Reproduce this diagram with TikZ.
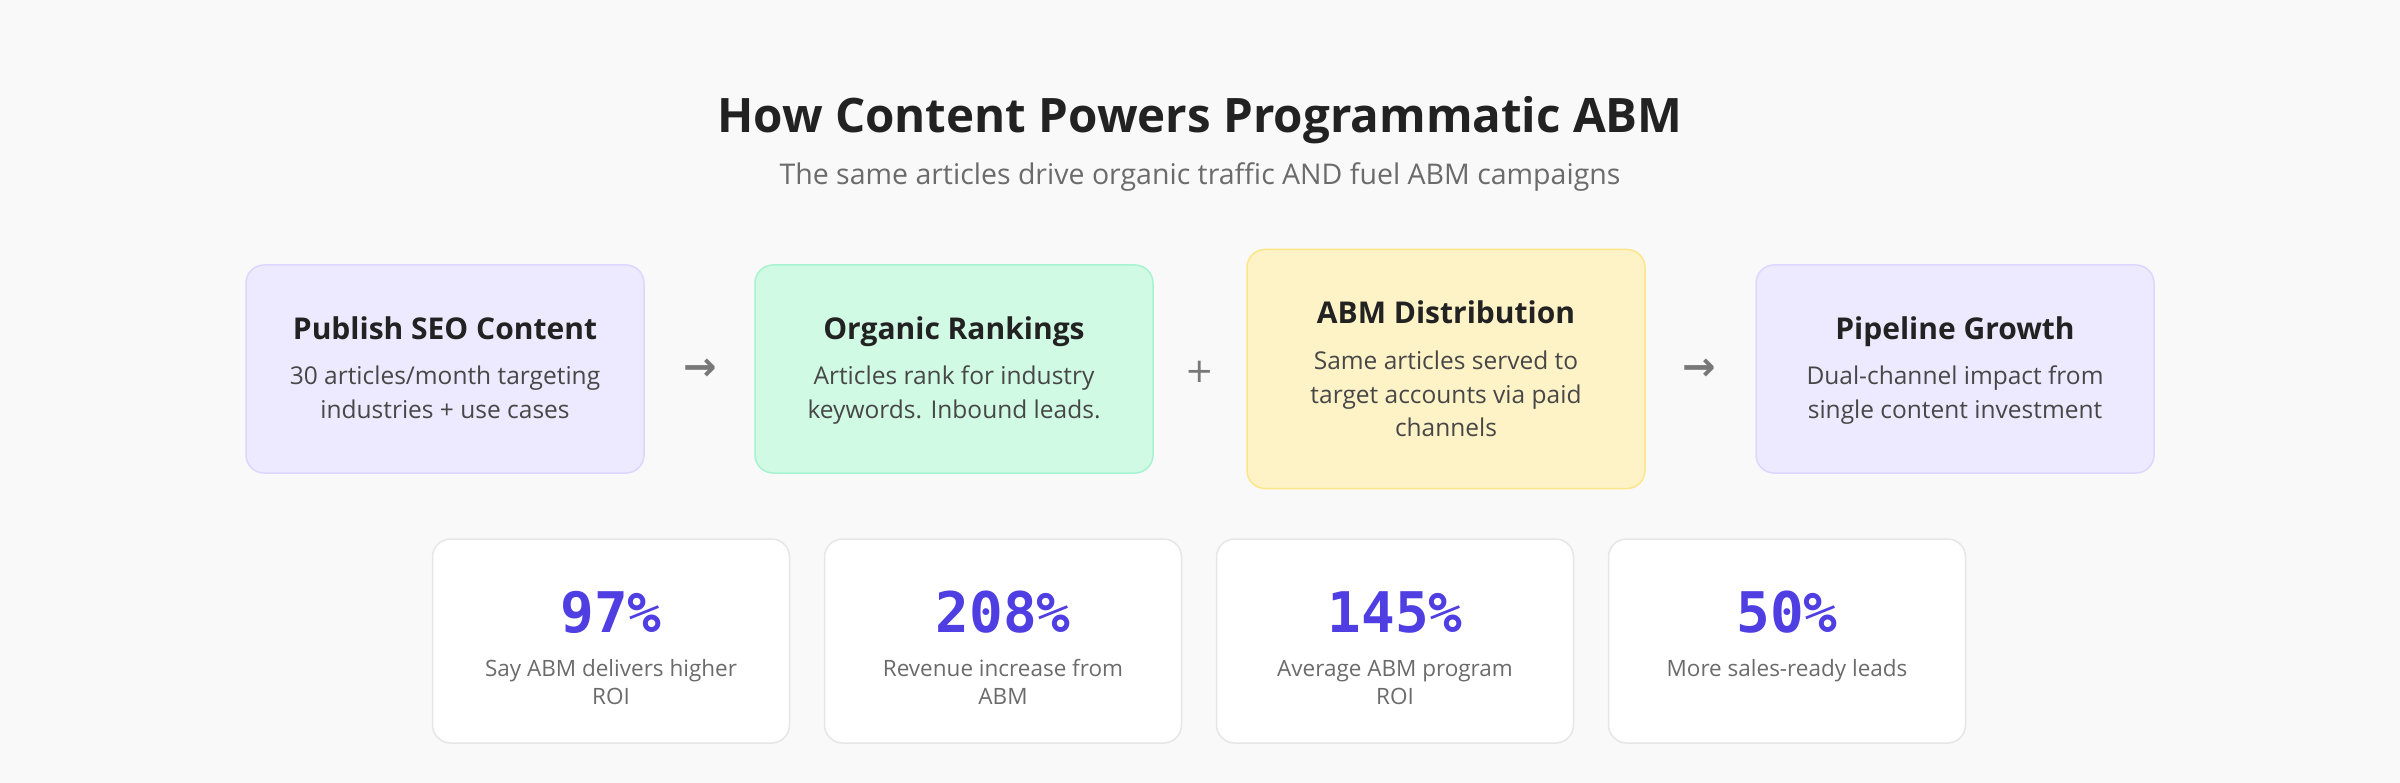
\documentclass[tikz,border=0pt]{standalone}
\usepackage{fontspec}
\setmainfont{Open Sans}
\newfontfamily\monof{DejaVu Sans Mono}
\newfontfamily\symf{DejaVu Sans}
\definecolor{bg}{HTML}{F9F9F9}
\definecolor{lavfill}{HTML}{EDE9FE}
\definecolor{lavline}{HTML}{DDD6FE}
\definecolor{mintfill}{HTML}{D1FAE5}
\definecolor{mintline}{HTML}{A7F3D0}
\definecolor{yelfill}{HTML}{FEF3C7}
\definecolor{yelline}{HTML}{FDE68A}
\definecolor{cardline}{HTML}{E6E6E6}
\definecolor{darktext}{HTML}{222222}
\definecolor{bodytext}{HTML}{474747}
\definecolor{graytext}{HTML}{6B6B6B}
\definecolor{opgray}{HTML}{787878}
\definecolor{indigo}{HTML}{4F3FE3}
\tikzset{
  flowbox/.style={draw, line width=1.5pt, rounded corners=18pt, minimum width=398pt, inner sep=0pt},
  card/.style={draw=cardline, fill=white, line width=1.5pt, rounded corners=18pt, minimum width=357pt, minimum height=204pt, inner sep=0pt},
  boxtitle/.style={anchor=base, inner sep=0pt, text=darktext, font=\fontsize{30}{36}\selectfont\bfseries},
  boxbody/.style={anchor=base, inner sep=0pt, text=bodytext, font=\fontsize{24.5}{29}\selectfont},
  statnum/.style={anchor=base, inner sep=0pt, text=indigo, font=\fontsize{56}{60}\selectfont\monof\bfseries},
  statlbl/.style={anchor=base, inner sep=0pt, text=graytext, font=\fontsize{22.5}{27}\selectfont},
  op/.style={inner sep=0pt, text=opgray, font=\fontsize{34}{40}\selectfont\symf},
}
\begin{document}
\begin{tikzpicture}[x=1pt,y=-1pt]
\fill[bg] (0,0) rectangle (2400,783);
\useasboundingbox (0,0) rectangle (2400,783);

\node[anchor=base, inner sep=0pt, text=darktext, font=\fontsize{47.5}{56}\selectfont\bfseries] (title) at (1200,133) {How Content Powers Programmatic ABM};
\node[anchor=base, inner sep=0pt, text=graytext, font=\fontsize{28.5}{34}\selectfont] (subtitle) at (1200,185) {The same articles drive organic traffic AND fuel ABM campaigns};

% flow boxes
\node[flowbox, draw=lavline, fill=lavfill, minimum height=208pt] (b1) at (445,369) {};
\node[flowbox, draw=mintline, fill=mintfill, minimum height=208pt] (b2) at (954,369) {};
\node[flowbox, draw=yelline, fill=yelfill, minimum height=239pt] (b3) at (1446,369) {};
\node[flowbox, draw=lavline, fill=lavfill, minimum height=208pt] (b4) at (1955,369) {};

\node[boxtitle] (b1t) at (445,340) {Publish SEO Content};
\node[boxbody] (b1a) at (445,384) {30 articles/month targeting};
\node[boxbody] (b1b) at (445,418) {industries + use cases};

\node[boxtitle] (b2t) at (954,340) {Organic Rankings};
\node[boxbody] (b2a) at (954,384) {Articles rank for industry};
\node[boxbody] (b2b) at (954,418) {keywords. Inbound leads.};

\node[boxtitle] (b3t) at (1446,324) {ABM Distribution};
\node[boxbody] (b3a) at (1446,369) {Same articles served to};
\node[boxbody] (b3b) at (1446,403) {target accounts via paid};
\node[boxbody] (b3c) at (1446,436) {channels};

\node[boxtitle] (b4t) at (1955,340) {Pipeline Growth};
\node[boxbody] (b4a) at (1955,384) {Dual-channel impact from};
\node[boxbody] (b4b) at (1955,418) {single content investment};

\node[op, font=\fontsize{40}{44}\selectfont\symf\bfseries] (o1) at (700,370) {→};
\node[op] (o2) at (1200,372) {+};
\node[op, font=\fontsize{40}{44}\selectfont\symf\bfseries] (o3) at (1699,370) {→};

% stat cards
\node[card] (c1) at (611,641) {};
\node[card] (c2) at (1003,641) {};
\node[card] (c3) at (1395,641) {};
\node[card] (c4) at (1787,641) {};

\node[statnum] (n1) at (611,632) {97\%};
\node[statlbl] (l1a) at (611,676) {Say ABM delivers higher};
\node[statlbl] (l1b) at (611,704) {ROI};

\node[statnum] (n2) at (1003,632) {208\%};
\node[statlbl] (l2a) at (1003,676) {Revenue increase from};
\node[statlbl] (l2b) at (1003,704) {ABM};

\node[statnum] (n3) at (1395,632) {145\%};
\node[statlbl] (l3a) at (1395,676) {Average ABM program};
\node[statlbl] (l3b) at (1395,704) {ROI};

\node[statnum] (n4) at (1787,632) {50\%};
\node[statlbl] (l4a) at (1787,676) {More sales-ready leads};
\end{tikzpicture}
\end{document}
